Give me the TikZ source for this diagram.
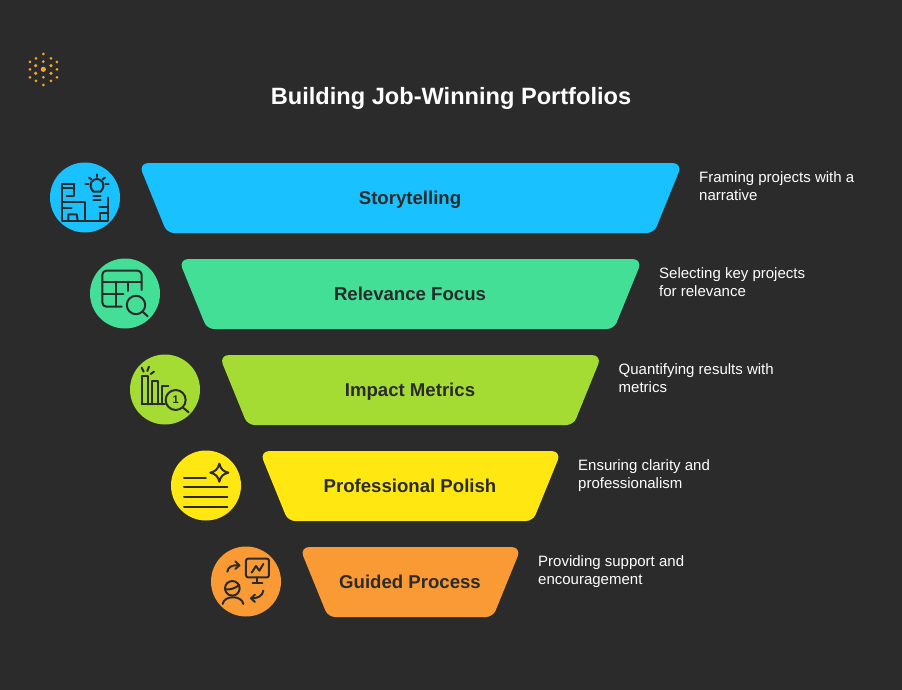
\documentclass[tikz,border=0pt]{standalone}
\usepackage{fontspec}
\setmainfont{Liberation Sans}
\definecolor{bgc}{HTML}{2B2B2B}
\definecolor{bluec}{HTML}{1AC1FF}
\definecolor{greenc}{HTML}{44DF97}
\definecolor{limec}{HTML}{A4DC33}
\definecolor{yellowc}{HTML}{FFE712}
\definecolor{orangec}{HTML}{F99A35}
\definecolor{logoc}{HTML}{F5A623}
\tikzset{
 titletext/.style={text=white,font=\fontsize{23.6}{28}\selectfont\bfseries,anchor=base,inner sep=0pt},
 barlabel/.style={text=bgc,font=\fontsize{18.6}{24}\selectfont\bfseries,anchor=base,inner sep=0pt},
 sidetext/.style={text=white,font=\fontsize{15}{18}\selectfont,anchor=west,align=left,inner sep=0pt},
 iconline/.style={draw=bgc,line width=2pt,line cap=round,line join=round},
 zoomgrid/.style={x=0.3333pt,y=-0.3333pt},
}
\newcommand{\trapbar}[7]{%
 \fill[#4,rounded corners=10pt] (410.5,#2) -- (410.5+#3,#2) [rounded corners=7pt] -- (410.5+#3-28.5,#2+70) -- (410.5-#3+28.5,#2+70) [rounded corners=10pt] -- (410.5-#3,#2) -- cycle;
 \node[barlabel] (#1) at (410,#2+41.3) {#5};
 \node[sidetext] (#1side) at (410.5+#3+16.5,#2+24.8) {\strut #6\\\strut #7};
}
\begin{document}
\begin{tikzpicture}[x=1pt,y=-1pt]
\useasboundingbox (0,0) rectangle (902,690);
\fill[bgc] (0,0) rectangle (902,690);
% logo
\begin{scope}[shift={(10,40)},zoomgrid]
\foreach \a/\b in {100/42,78/55,123/55,60/66,141/66,100/65,60/88,141/88,100/112,60/112,141/112,78/123,123/123,100/135}
  \fill[logoc] (\a,\b) circle (1.5pt);
\foreach \a/\b in {77/77,123/77,77/100,123/100}
  \fill[logoc] (\a,\b) circle (1.8pt);
\fill[logoc] (100,88) circle (2.6pt);
\end{scope}
\node[titletext] (title) at (451,105) {Building Job-Winning Portfolios};
\trapbar{story}{163}{272}{bluec}{Storytelling}{Framing projects with a}{narrative}
\trapbar{relev}{259}{232}{greenc}{Relevance Focus}{Selecting key projects}{for relevance}
\trapbar{impact}{355}{191.5}{limec}{Impact Metrics}{Quantifying results with}{metrics}
\trapbar{polish}{451}{151}{yellowc}{Professional Polish}{Ensuring clarity and}{professionalism}
\trapbar{guided}{547}{111}{orangec}{Guided Process}{Providing support and}{encouragement}
% circles
\fill[bluec] (85,197.5) circle (35);
\fill[greenc] (125,293.5) circle (35);
\fill[limec] (165,389.5) circle (35);
\fill[yellowc] (206,485.5) circle (35);
\fill[orangec] (246,581.5) circle (35);
% icon 1
\begin{scope}[shift={(40,155)},zoomgrid,iconline]
\draw (103,88) -- (65,88) -- (65,197) -- (205,197) -- (205,128);
\draw (65,100) -- (103,100);
\draw (103,88) -- (103,122) -- (80,122);
\draw (65,142) -- (135,142) -- (135,197);
\draw (65,158) -- (95,158);
\draw (85,197) -- (85,178) -- (110,178) -- (113,197);
\draw (180,197) -- (180,175) -- (205,175);
\draw (178,155) -- (205,155);
\draw (160,110) .. controls (140,85) and (160,72) .. (171,72) .. controls (182,72) and (202,85) .. (182,110) -- cycle;
\draw (160,122) -- (182,122);
\draw (160,135) -- (182,135);
\draw (171,58) -- (171,66);
\draw (147,68) -- (154,73);
\draw (195,68) -- (188,73);
\draw (136,88) -- (146,88);
\draw (196,88) -- (206,88);
\end{scope}
% icon 2
\begin{scope}[shift={(40,155)},zoomgrid,iconline]
\draw[rounded corners=4pt] (305,405) -- (305,347) -- (187,347) -- (187,455) -- (245,455);
\draw (187,380) -- (305,380);
\draw (228,380) -- (228,455);
\draw (187,418) -- (250,418);
\draw (265,380) -- (265,408);
\draw (288,450) circle (9.2pt);
\draw (308,470) -- (323,484);
\end{scope}
% icon 3
\begin{scope}[shift={(120,345)},zoomgrid,iconline]
\draw (65,178) -- (65,92) -- (85,92) -- (85,178);
\draw (95,178) -- (95,107) -- (115,107) -- (115,178);
\draw (125,178) -- (125,122) -- (145,122);
\draw (65,178) -- (135,178);
\draw (65,68) -- (71,80);
\draw (87,65) -- (82,78);
\draw (102,80) -- (92,87);
\draw (167,165) circle (10pt);
\draw (188,187) -- (206,202);
\node[text=bgc,font=\fontsize{11}{12}\selectfont\bfseries,inner sep=0pt] (one) at (167,164) {1};
\end{scope}
% icon 4
\begin{scope}[shift={(120,345)},zoomgrid,iconline]
\draw (192,398) -- (258,398);
\draw (192,427) -- (322,427);
\draw (192,456) -- (322,456);
\draw (192,485) -- (322,485);
\draw (298,356) .. controls (302,372) and (309,379) .. (325,383) .. controls (309,387) and (302,394) .. (298,410) .. controls (294,394) and (287,387) .. (271,383) .. controls (287,379) and (294,372) .. (298,356) -- cycle;
\end{scope}
% icon 5
\begin{scope}[shift={(200,540)},zoomgrid,iconline]
\draw[rounded corners=2pt] (138,56) rectangle (207,112);
\draw (172,112) -- (172,128);
\draw (158,128) -- (187,128);
\draw (155,98) -- (168,78) -- (178,92) -- (190,72);
\draw (97,145) circle (7.3pt);
\draw (76,148) .. controls (90,150) and (105,145) .. (118,135);
\draw (68,192) .. controls (72,165) and (126,165) .. (130,192);
\draw (82,95) .. controls (84,80) and (98,74) .. (118,76);
\draw (106,64) -- (118,76) -- (106,87);
\draw (190,152) .. controls (188,168) and (172,176) .. (153,175);
\draw (165,164) -- (153,175) -- (165,186);
\end{scope}
\end{tikzpicture}
\end{document}
